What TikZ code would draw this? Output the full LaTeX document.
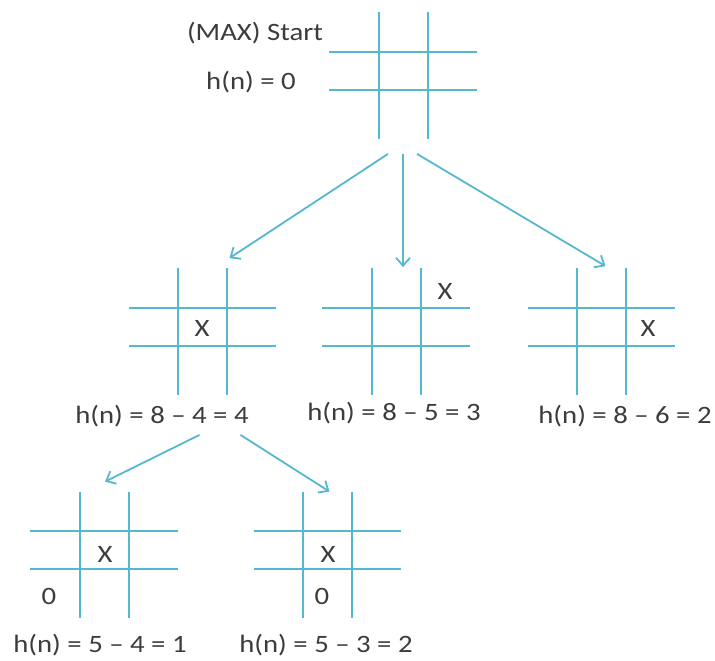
\documentclass[tikz,border=0pt]{standalone}
\usepackage{fontspec}
\setmainfont{Carlito}[FakeStretch=1.15]
\usepackage{tikz}
\usetikzlibrary{arrows.meta, positioning}
\definecolor{gridcyan}{RGB}{84, 184, 208}
\definecolor{textgray}{RGB}{60, 60, 60}

% draws the four lines of a board around node #1
\newcommand{\boardlines}[1]{%
    \draw[gridline] ([xshift=-12.25pt]#1.north) -- ([xshift=-12.25pt]#1.south);
    \draw[gridline] ([xshift=12.25pt]#1.north) -- ([xshift=12.25pt]#1.south);
    \draw[gridline] ([yshift=12pt]#1.west) -- ([yshift=12pt]#1.east);
    \draw[gridline] ([yshift=-7pt]#1.west) -- ([yshift=-7pt]#1.east);
}

\begin{document}
\begin{tikzpicture}[
    x=0.5pt, y=-0.5pt,
    board/.style={minimum width=73.5pt, minimum height=63pt, inner sep=0pt},
    gridline/.style={draw=gridcyan, line width=1pt},
    arr/.style={draw=gridcyan, line width=0.9pt,
                -{Straight Barb[length=4pt, width=7pt]}},
    cellmark/.style={font=\fontsize{12.5}{14}\selectfont, text=textgray, inner sep=0pt},
    hlabel/.style={font=\fontsize{12.5}{14}\selectfont, text=textgray, inner sep=0pt},
]
    \useasboundingbox (0,0) rectangle (715,660);

    % boards
    \node[board] (start) at (403,75.5) {};
    \node[board] (b1) at (202.5,331.5) {};
    \node[board] (b2) at (396,331.5) {};
    \node[board] (b3) at (601.5,331.5) {};
    \node[board] (b11) at (104,555) {};
    \node[board] (b12) at (327.5,555) {};
    \foreach \b in {start,b1,b2,b3,b11,b12} {\boardlines{\b}}

    % marks
    \node[cellmark] (x1) at (202,328) {X};
    \node[cellmark] (x2) at (445,291) {X};
    \node[cellmark] (x3) at (648,328) {X};
    \node[cellmark] (x11) at (105,554) {X};
    \node[cellmark] (o11) at (49,596) {0};
    \node[cellmark] (x12) at (328,554) {X};
    \node[cellmark] (o12) at (322,596) {0};

    % labels
    \node[hlabel] (maxlbl) at (255,33) {(MAX) Start};
    \node[hlabel] (h0) at (251,82) {h(n) = 0};
    \node[hlabel] (h1) at (162,416) {h(n) = 8 -- 4 = 4};
    \node[hlabel] (h2) at (394,413) {h(n) = 8 -- 5 = 3};
    \node[hlabel] (h3) at (625,416) {h(n) = 8 -- 6 = 2};
    \node[hlabel] (h11) at (100,645) {h(n) = 5 -- 4 = 1};
    \node[hlabel] (h12) at (326,645) {h(n) = 5 -- 3 = 2};

    % moves
    \draw[arr] ([shift={(-15,15)}]start.south) -- ([shift={(27,-10)}]b1.north);
    \draw[arr] ([shift={(0,15)}]start.south) -- ([shift={(7,-1)}]b2.north);
    \draw[arr] ([shift={(14,15)}]start.south) -- ([shift={(4,-2)}]b3.north);
    \draw[arr] ([shift={(-3,40)}]b1.south) -- ([shift={(1,-10)}]b11.north);
    \draw[arr] ([shift={(38,40)}]b1.south) -- ([shift={(2,0)}]b12.north);
\end{tikzpicture}
\end{document}
